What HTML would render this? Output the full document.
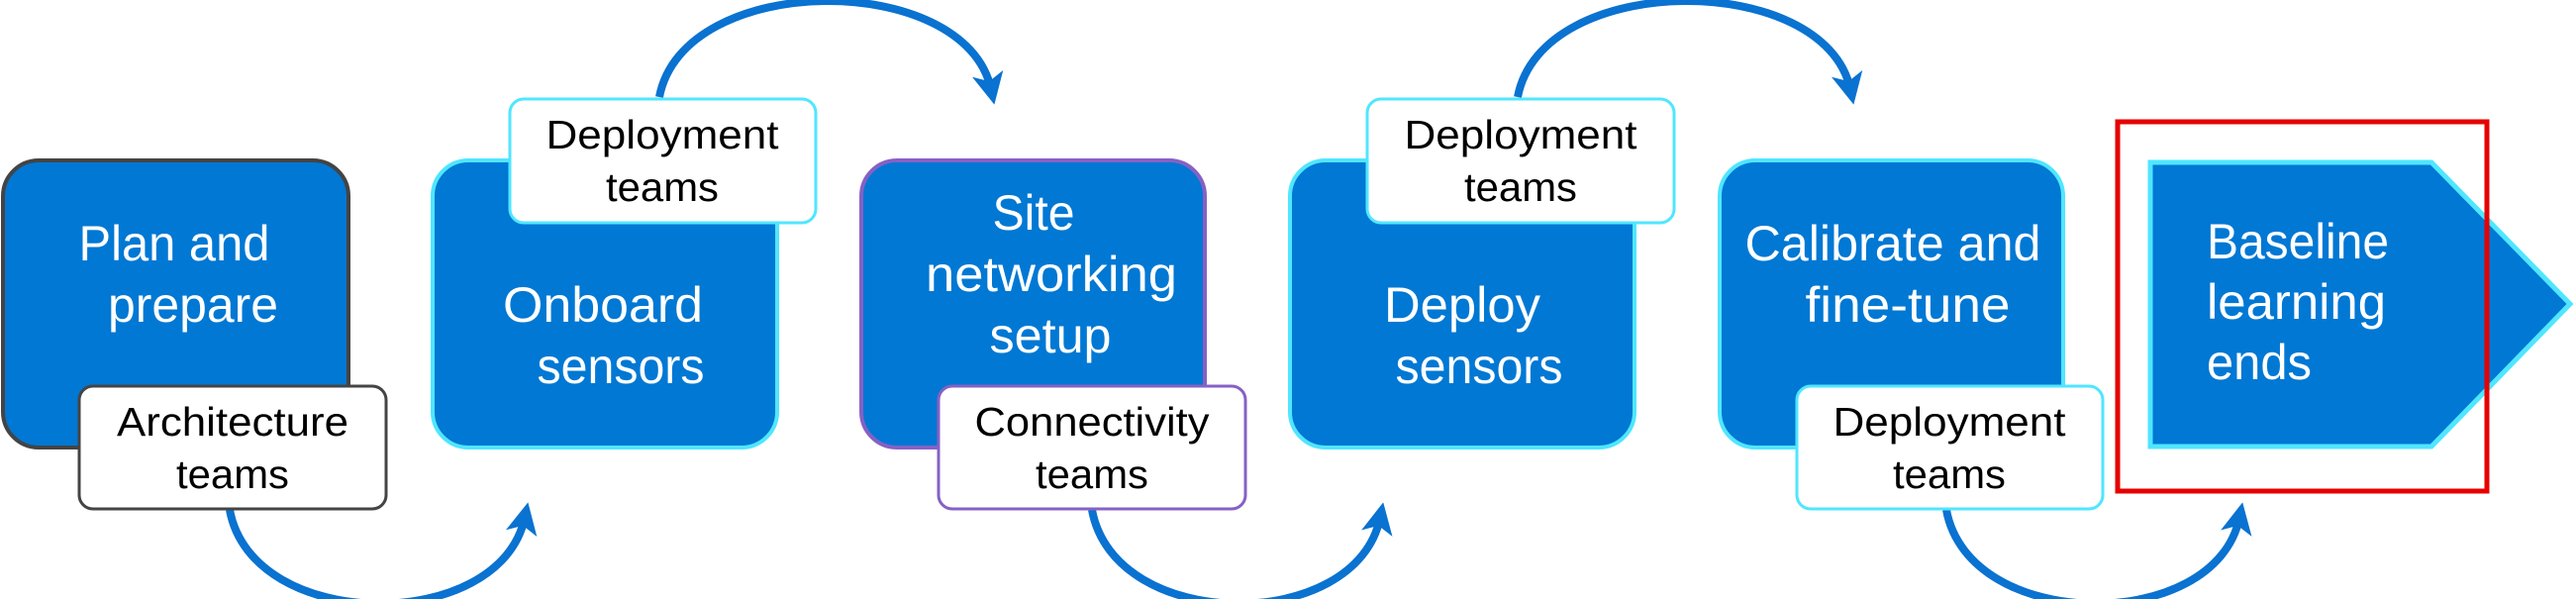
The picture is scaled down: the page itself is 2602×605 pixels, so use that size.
<!DOCTYPE html>
<html><head><meta charset="utf-8"><style>
html,body{margin:0;padding:0;background:#fff;}
svg{display:block;}
text{font-family:"Liberation Sans",sans-serif;}
.m{fill:#fff;font-size:50px;text-anchor:middle;}
.l{fill:#000;font-size:41px;text-anchor:middle;}
</style></head><body>
<svg width="2602" height="605" viewBox="0 0 2602 605" xmlns="http://www.w3.org/2000/svg">
<defs>
<marker id="ah" markerWidth="4" markerHeight="4" refX="2" refY="2" orient="auto" markerUnits="strokeWidth">
<path d="M0,0 L4,2 L0,4 L1,2 Z" fill="#0a72d0"/>
</marker>
</defs>
<g fill="none" stroke="#0a72d0" stroke-width="8" marker-end="url(#ah)">
<path d="M232,515 C255,640 505,640 530,523"/>
<path d="M1103,515 C1126,640 1370,640 1394,523"/>
<path d="M1966,515 C1989,640 2238,640 2262,523"/>
<path d="M666,98 C690,-30 975,-30 1001,90"/>
<path d="M1533,98 C1557,-30 1843,-30 1869,90"/>
</g>
<rect x="3" y="162" width="349" height="290" rx="36" fill="#0078d4" stroke="#444" stroke-width="4"/>
<rect x="437" y="162" width="348" height="290" rx="36" fill="#0078d4" stroke="#50e6ff" stroke-width="4"/>
<rect x="870" y="162" width="347" height="290" rx="36" fill="#0078d4" stroke="#8661c5" stroke-width="4"/>
<rect x="1303" y="162" width="348" height="290" rx="36" fill="#0078d4" stroke="#50e6ff" stroke-width="4"/>
<rect x="1737" y="162" width="347" height="290" rx="36" fill="#0078d4" stroke="#50e6ff" stroke-width="4"/>
<path d="M2172,164 L2456,164 L2596,307 L2456,451 L2172,451 Z" fill="#0078d4" stroke="#50e6ff" stroke-width="5"/>
<rect x="80" y="390" width="310" height="124" rx="14" fill="#fff" stroke="#444" stroke-width="3"/>
<rect x="515" y="100" width="309" height="125" rx="14" fill="#fff" stroke="#50e6ff" stroke-width="3"/>
<rect x="948" y="390" width="310" height="124" rx="14" fill="#fff" stroke="#8661c5" stroke-width="3"/>
<rect x="1381" y="100" width="310" height="125" rx="14" fill="#fff" stroke="#50e6ff" stroke-width="3"/>
<rect x="1815" y="390" width="309" height="124" rx="14" fill="#fff" stroke="#50e6ff" stroke-width="3"/>
<rect x="2139" y="123" width="373" height="373" fill="none" stroke="#e60000" stroke-width="5"/>
<text class="m" x="176" y="263" textLength="193" lengthAdjust="spacingAndGlyphs">Plan and</text>
<text class="m" x="195" y="325" textLength="172" lengthAdjust="spacingAndGlyphs">prepare</text>
<text class="m" x="609" y="325" textLength="202" lengthAdjust="spacingAndGlyphs">Onboard</text>
<text class="m" x="627" y="387" textLength="169" lengthAdjust="spacingAndGlyphs">sensors</text>
<text class="m" x="1044" y="232" textLength="83" lengthAdjust="spacingAndGlyphs">Site</text>
<text class="m" x="1062" y="294" textLength="254" lengthAdjust="spacingAndGlyphs">networking</text>
<text class="m" x="1061" y="356" textLength="123" lengthAdjust="spacingAndGlyphs">setup</text>
<text class="m" x="1477" y="325" textLength="158" lengthAdjust="spacingAndGlyphs">Deploy</text>
<text class="m" x="1494" y="387" textLength="169" lengthAdjust="spacingAndGlyphs">sensors</text>
<text class="m" x="1912" y="263" textLength="299" lengthAdjust="spacingAndGlyphs">Calibrate and</text>
<text class="m" x="1927" y="325" textLength="207" lengthAdjust="spacingAndGlyphs">fine-tune</text>
<text class="m" x="2229" y="261" style="text-anchor:start" textLength="184" lengthAdjust="spacingAndGlyphs">Baseline</text>
<text class="m" x="2229" y="322" style="text-anchor:start" textLength="181" lengthAdjust="spacingAndGlyphs">learning</text>
<text class="m" x="2229" y="383" style="text-anchor:start" textLength="106" lengthAdjust="spacingAndGlyphs">ends</text>
<text class="l" x="235" y="440" textLength="234" lengthAdjust="spacingAndGlyphs">Architecture</text>
<text class="l" x="235" y="493" textLength="114" lengthAdjust="spacingAndGlyphs">teams</text>
<text class="l" x="669" y="150" textLength="235" lengthAdjust="spacingAndGlyphs">Deployment</text>
<text class="l" x="669" y="203" textLength="114" lengthAdjust="spacingAndGlyphs">teams</text>
<text class="l" x="1103" y="440" textLength="237" lengthAdjust="spacingAndGlyphs">Connectivity</text>
<text class="l" x="1103" y="493" textLength="114" lengthAdjust="spacingAndGlyphs">teams</text>
<text class="l" x="1536" y="150" textLength="235" lengthAdjust="spacingAndGlyphs">Deployment</text>
<text class="l" x="1536" y="203" textLength="114" lengthAdjust="spacingAndGlyphs">teams</text>
<text class="l" x="1969" y="440" textLength="235" lengthAdjust="spacingAndGlyphs">Deployment</text>
<text class="l" x="1969" y="493" textLength="114" lengthAdjust="spacingAndGlyphs">teams</text>
</svg>
</body></html>
